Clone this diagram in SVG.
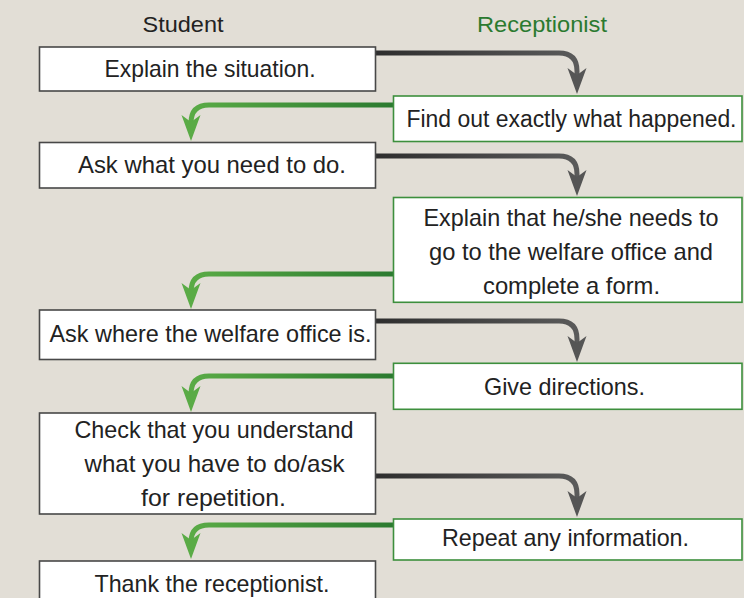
<svg xmlns="http://www.w3.org/2000/svg" xmlns:xlink="http://www.w3.org/1999/xlink" width="744" height="598" viewBox="0 0 744 598">
<defs>
<style>
.bg{fill:#e2ded6}
.sbox{fill:#ffffff;stroke:#484848;stroke-width:1.6}
.rbox{fill:#ffffff;stroke:#3d8f3d;stroke-width:1.6}
text{font-family:"Liberation Sans",Arial,sans-serif;font-size:24px;fill:#222222;text-anchor:middle}
.hdr{font-size:22.5px}
.hdr-r{fill:#2b7a30}
.tight{font-size:23px}
.dl{fill:none;stroke:url(#gd);stroke-width:5}
.gl{fill:none;stroke:url(#gg);stroke-width:5}
.ahd{fill:#555555}
.ahg{fill:#5aab46}
</style>
<linearGradient id="gd" x1="0" y1="0" x2="1" y2="0">
<stop offset="0" stop-color="#2e2e2e"/>
<stop offset="1" stop-color="#5a5a5a"/>
</linearGradient>
<linearGradient id="gg" x1="0" y1="0" x2="1" y2="0">
<stop offset="0" stop-color="#5aab46"/>
<stop offset="1" stop-color="#2b7a30"/>
</linearGradient>
<path id="ah" d="M0,0 L-9.5,-26 L0,-19 L9.5,-26 Z"/>
</defs>
<rect class="bg" x="0" y="0" width="744" height="598"/>

<g id="headers">
<text class="hdr" x="183" y="32" textLength="81" lengthAdjust="spacingAndGlyphs">Student</text>
<text class="hdr hdr-r" x="542" y="32" textLength="130" lengthAdjust="spacingAndGlyphs">Receptionist</text>
</g>

<g id="connectors">
<path class="dl" d="M376,53 H559 Q577,53 577,71 V77"/>
<use xlink:href="#ah" href="#ah" class="ahd" transform="translate(577,94)"/>
<path class="gl" d="M393,105 H209 Q191,105 191,123 V124"/>
<use xlink:href="#ah" href="#ah" class="ahg" transform="translate(191,141)"/>
<path class="dl" d="M376,156 H559 Q577,156 577,174 V179"/>
<use xlink:href="#ah" href="#ah" class="ahd" transform="translate(577,196)"/>
<path class="gl" d="M393,274 H209 Q191,274 191,292"/>
<use xlink:href="#ah" href="#ah" class="ahg" transform="translate(191,309)"/>
<path class="dl" d="M376,321 H559 Q577,321 577,339 V345"/>
<use xlink:href="#ah" href="#ah" class="ahd" transform="translate(577,362)"/>
<path class="gl" d="M393,376 H209 Q191,376 191,394 V395"/>
<use xlink:href="#ah" href="#ah" class="ahg" transform="translate(191,412)"/>
<path class="dl" d="M376,476 H559 Q577,476 577,494 V500"/>
<use xlink:href="#ah" href="#ah" class="ahd" transform="translate(577,517)"/>
<path class="gl" d="M393,525 H209 Q191,525 191,542"/>
<use xlink:href="#ah" href="#ah" class="ahg" transform="translate(191,559)"/>
</g>

<g id="s1">
<rect class="sbox" x="39.5" y="47" width="336" height="44"/>
<text x="210" y="77" textLength="211" lengthAdjust="spacingAndGlyphs">Explain the situation.</text>
</g>
<g id="r1">
<rect class="rbox" x="393.5" y="96" width="348.5" height="45.5"/>
<text class="tight" x="571.5" y="127" textLength="330" lengthAdjust="spacingAndGlyphs">Find out exactly what happened.</text>
</g>
<g id="s2">
<rect class="sbox" x="39.5" y="142.5" width="336" height="45.5"/>
<text x="212" y="173" textLength="268" lengthAdjust="spacingAndGlyphs">Ask what you need to do.</text>
</g>
<g id="r2">
<rect class="rbox" x="393.5" y="197.5" width="348.5" height="104.8"/>
<text x="571" y="226" textLength="295" lengthAdjust="spacingAndGlyphs">Explain that he/she needs to</text>
<text x="571" y="260" textLength="284" lengthAdjust="spacingAndGlyphs">go to the welfare office and</text>
<text x="571.5" y="294" textLength="177" lengthAdjust="spacingAndGlyphs">complete a form.</text>
</g>
<g id="s3">
<rect class="sbox" x="39.5" y="310" width="336" height="49.5"/>
<text x="210.5" y="342" textLength="322" lengthAdjust="spacingAndGlyphs">Ask where the welfare office is.</text>
</g>
<g id="r3">
<rect class="rbox" x="393.5" y="363.3" width="348.5" height="46"/>
<text x="564.5" y="395" textLength="161" lengthAdjust="spacingAndGlyphs">Give directions.</text>
</g>
<g id="s4">
<rect class="sbox" x="39.5" y="413" width="336" height="101"/>
<text x="214" y="438" textLength="279" lengthAdjust="spacingAndGlyphs">Check that you understand</text>
<text x="214.5" y="472" textLength="260" lengthAdjust="spacingAndGlyphs">what you have to do/ask</text>
<text x="213.5" y="506" textLength="145" lengthAdjust="spacingAndGlyphs">for repetition.</text>
</g>
<g id="r4">
<rect class="rbox" x="393.5" y="519" width="348.5" height="41"/>
<text x="565.5" y="546" textLength="247" lengthAdjust="spacingAndGlyphs">Repeat any information.</text>
</g>
<g id="s5">
<rect class="sbox" x="39.5" y="561" width="336" height="45"/>
<text x="212" y="592" textLength="235" lengthAdjust="spacingAndGlyphs">Thank the receptionist.</text>
</g>
</svg>
